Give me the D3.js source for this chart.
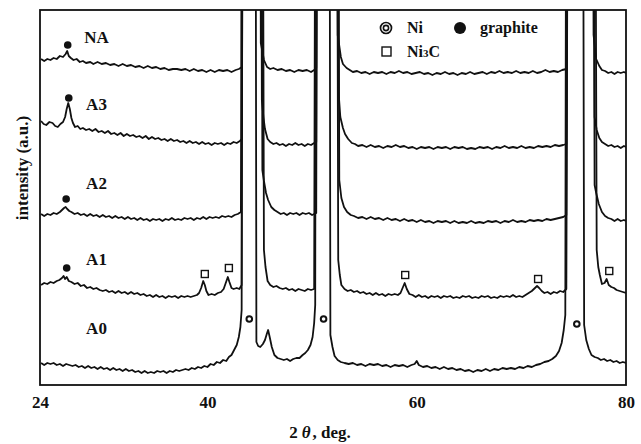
<!DOCTYPE html>
<html>
<head>
<meta charset="utf-8">
<script src="https://cdn.jsdelivr.net/npm/d3@7"></script>
<style>
  body { margin: 0; background: #fff; }
  text { font-family: "Liberation Serif", "Times New Roman", serif; font-weight: bold; fill: #111; }
</style>
</head>
<body>
<div id="plot"></div>
<script>
// Chart size
const width = 641;
const height = 444;
const margin = { top: 10, right: 15, bottom: 59, left: 40 };

// X-ray patterns, [2theta, intensity a.u.]; peaks go far off the top
const NA = [
  [24.1,326],[24.4,324],[24.7,326],[25.0,325],[25.3,327],[25.6,326],[25.9,329],[26.2,328],[26.45,331],[26.6,334],[26.75,329],[26.95,327],[27.2,325],[27.5,326],[27.8,323],[28.1,324],[28.4,322],[28.8,323],[29.1,321],[29.5,323],[29.9,321],[30.3,322],[30.7,320],[31.1,321],[31.5,319],[31.9,321],[32.3,319],[32.7,320],[33.1,318],[33.5,319],[33.9,317],[34.3,319],[34.7,317],[35.1,318],[35.5,316],[35.9,317],[36.3,315],[36.7,316],[37.1,316],[37.5,315],[37.9,316],[38.3,314],[38.7,316],[39.1,314],[39.5,315],[39.9,313],[40.3,315],[40.7,313],[41.1,315],[41.5,314],[41.9,315],[42.3,313],[42.7,315],[43.0,316],[43.3,318],
  [44.2,5000],
  [45.1,342],[45.4,325],[45.7,318],[46.0,316],[46.3,317],[46.7,315],[47.1,316],[47.5,314],[47.9,315],[48.3,313],[48.7,315],[49.1,314],[49.5,315],[49.9,313],[50.2,315],[50.4,317],
  [51.3,5000],
  [52.45,350],[52.75,328],[52.95,321],[53.3,317],[53.6,315],[53.9,313],[54.3,314],[54.7,312],[55.1,313],[55.5,311],[55.9,313],[56.3,312],[56.7,313],[57.1,311],[57.5,313],[57.9,312],[58.3,314],[58.7,312],[59.1,313],[59.5,311],[59.9,312],[60.3,313],[60.7,311],[61.1,312],[61.5,310],[61.9,312],[62.3,311],[62.7,313],[63.1,311],[63.5,312],[63.9,310],[64.3,312],[64.7,311],[65.1,313],[65.5,311],[65.9,312],[66.3,313],[66.7,311],[67.1,313],[67.5,312],[67.9,314],[68.3,312],[68.7,313],[69.1,312],[69.5,314],[69.9,312],[70.3,313],[70.7,312],[71.1,314],[71.5,312],[71.9,313],[72.3,315],[72.7,313],[73.1,314],[73.5,313],[73.9,315],[74.3,316],
  [75.7,5000],
  [76.9,350],[77.15,326],[77.45,319],[77.7,315],[78.0,314],[78.3,312],[78.6,313],[78.9,311],[79.2,313],[79.5,312],[79.8,313],[80,312]
];

const A3 = [
  [24.1,264],[24.35,261],[24.6,260],[24.9,263],[25.2,262],[25.45,259],[25.7,258],[25.95,261],[26.2,263],[26.4,268],[26.55,276],[26.7,282],[26.85,276],[27.0,267],[27.15,262],[27.35,258],[27.6,259],[27.85,256],[28.1,257],[28.4,255],[28.7,256],[29.0,254],[29.3,256],[29.6,253],[29.9,254],[30.2,252],[30.5,254],[30.8,251],[31.1,252],[31.4,250],[31.7,252],[32.0,249],[32.3,251],[32.6,249],[32.9,250],[33.2,248],[33.5,249],[33.8,247],[34.1,249],[34.4,246],[34.7,248],[35.0,246],[35.3,247],[35.6,245],[35.9,246],[36.2,244],[36.5,246],[36.8,244],[37.1,245],[37.4,243],[37.7,244],[38.0,242],[38.3,244],[38.6,242],[38.9,243],[39.2,241],[39.5,243],[39.8,241],[40.1,242],[40.4,240],[40.7,242],[41.0,241],[41.3,242],[41.6,240],[41.9,242],[42.2,241],[42.5,243],[42.8,242],[43.1,244],[43.3,246],
  [44.2,5000],
  [45.2,285],[45.35,268],[45.5,256],[45.75,246],[46.0,243],[46.3,241],[46.6,242],[46.9,240],[47.2,241],[47.5,239],[47.8,241],[48.1,240],[48.4,242],[48.7,240],[49.0,241],[49.3,239],[49.6,241],[49.9,240],[50.2,242],[50.4,243],
  [51.3,5000],
  [52.55,290],[52.7,268],[52.95,257],[53.15,251],[53.45,246],[53.8,242],[54.1,241],[54.4,239],[54.8,240],[55.2,238],[55.6,240],[56.0,238],[56.4,239],[56.8,237],[57.2,239],[57.6,238],[58.0,240],[58.4,238],[58.8,239],[59.2,237],[59.6,238],[60.0,236],[60.4,238],[60.8,237],[61.2,238],[61.6,236],[62.0,238],[62.4,237],[62.8,238],[63.2,236],[63.6,238],[64.0,237],[64.4,238],[64.8,236],[65.2,237],[65.6,236],[66.0,238],[66.4,237],[66.8,238],[67.2,236],[67.6,238],[68.0,237],[68.4,239],[68.8,237],[69.2,238],[69.6,237],[70.0,239],[70.4,237],[70.8,238],[71.2,237],[71.6,239],[72.0,238],[72.4,239],[72.8,238],[73.2,240],[73.6,239],[74.0,240],[74.3,241],
  [75.7,5000],
  [77.0,268],[77.2,255],[77.45,247],[77.7,243],[78.0,241],[78.3,239],[78.6,240],[78.9,238],[79.2,239],[79.5,237],[79.8,239],[80,238]
];

const A2 = [
  [24.1,171],[24.4,169],[24.7,171],[25.0,170],[25.3,172],[25.6,171],[25.9,173],[26.1,175],[26.3,177],[26.45,178],[26.6,176],[26.8,174],[27.0,173],[27.3,171],[27.6,172],[27.9,170],[28.2,171],[28.5,169],[28.8,171],[29.1,169],[29.4,170],[29.7,168],[30.0,170],[30.3,168],[30.6,169],[30.9,167],[31.2,169],[31.5,167],[31.8,168],[32.1,166],[32.4,168],[32.7,166],[33.0,167],[33.3,165],[33.6,167],[33.9,165],[34.2,166],[34.5,164],[34.8,166],[35.1,165],[35.4,166],[35.7,164],[36.0,166],[36.3,165],[36.6,167],[36.9,165],[37.2,166],[37.5,165],[37.8,167],[38.1,166],[38.4,167],[38.7,165],[39.0,167],[39.3,166],[39.6,168],[39.9,166],[40.2,168],[40.5,167],[40.8,168],[41.1,167],[41.4,169],[41.7,168],[42.0,169],[42.3,168],[42.6,170],[42.9,171],[43.2,173],
  [44.2,5000],
  [45.25,215],[45.4,204],[45.6,192],[45.8,185],[46.1,178],[46.4,175],[46.7,173],[47.0,171],[47.3,172],[47.6,170],[47.9,172],[48.2,171],[48.5,172],[48.8,170],[49.1,172],[49.4,171],[49.7,172],[50.0,170],[50.2,171],[50.4,172],
  [51.3,5000],
  [52.6,205],[52.8,187],[53.05,178],[53.35,173],[53.7,170],[54.0,169],[54.4,167],[54.8,168],[55.2,166],[55.6,168],[56.0,166],[56.4,167],[56.8,165],[57.2,167],[57.6,165],[58.0,166],[58.4,164],[58.8,166],[59.2,164],[59.6,165],[60.0,163],[60.4,165],[60.8,163],[61.2,164],[61.6,162],[62.0,164],[62.4,163],[62.8,164],[63.2,162],[63.6,164],[64.0,162],[64.4,163],[64.8,162],[65.2,164],[65.6,162],[66.0,163],[66.4,162],[66.8,164],[67.2,163],[67.6,164],[68.0,162],[68.4,164],[68.8,163],[69.2,165],[69.6,163],[70.0,164],[70.4,163],[70.8,165],[71.2,164],[71.6,165],[72.0,164],[72.4,166],[72.8,165],[73.2,166],[73.6,167],[74.0,168],[74.3,170],
  [75.7,5000],
  [77.0,200],[77.15,192],[77.4,181],[77.7,173],[78.0,169],[78.3,167],[78.6,166],[78.9,164],[79.2,166],[79.5,164],[79.8,165],[80,164]
];

const A1 = [
  [24.1,100],[24.4,102],[24.7,101],[25.0,103],[25.3,102],[25.6,104],[25.85,105],[26.1,107],[26.25,109],[26.4,106],[26.55,108],[26.75,104],[27.0,103],[27.3,101],[27.6,102],[27.9,99],[28.2,100],[28.5,97],[28.8,98],[29.1,96],[29.4,97],[29.7,95],[30.0,94],[30.3,95],[30.6,93],[30.9,94],[31.2,92],[31.5,94],[31.8,92],[32.1,93],[32.4,91],[32.7,93],[33.0,91],[33.3,92],[33.6,90],[33.9,91],[34.2,89],[34.5,90],[34.8,88],[35.1,90],[35.4,88],[35.7,89],[36.0,87],[36.3,89],[36.6,88],[36.9,89],[37.2,87],[37.5,89],[37.8,88],[38.1,89],[38.4,88],[38.7,89],[39.0,90],[39.2,92],[39.4,97],[39.6,104],[39.75,100],[39.9,94],[40.1,90],[40.4,91],[40.7,90],[41.0,92],[41.3,93],[41.55,96],[41.75,102],[41.95,108],[42.1,103],[42.3,97],[42.5,96],[42.8,97],[43.05,96],[43.27,100],
  [44.2,5000],
  [45.4,135],[45.55,118],[45.75,104],[46.0,100],[46.3,98],[46.6,99],[46.9,97],[47.2,96],[47.5,97],[47.8,95],[48.1,96],[48.4,94],[48.7,96],[49.0,95],[49.3,94],[49.6,96],[49.9,95],[50.2,96],
  [51.3,5000],
  [52.5,125],[52.65,110],[52.8,100],[53.1,96],[53.4,94],[53.7,95],[54.0,93],[54.3,94],[54.6,92],[54.9,93],[55.2,91],[55.5,92],[55.8,90],[56.1,92],[56.4,90],[56.7,91],[57.0,89],[57.3,91],[57.6,90],[57.9,91],[58.2,90],[58.45,92],[58.65,97],[58.85,102],[59.05,96],[59.3,91],[59.6,90],[59.9,88],[60.2,90],[60.5,88],[60.8,89],[61.1,87],[61.4,89],[61.7,88],[62.0,89],[62.3,87],[62.6,89],[62.9,88],[63.2,89],[63.5,87],[63.8,88],[64.1,87],[64.4,89],[64.7,88],[65.0,89],[65.3,87],[65.6,88],[65.9,87],[66.2,89],[66.5,88],[66.8,89],[67.1,87],[67.4,88],[67.7,87],[68.0,89],[68.3,88],[68.6,89],[68.9,88],[69.2,90],[69.5,88],[69.8,89],[70.1,88],[70.4,90],[70.7,92],[71.0,94],[71.3,97],[71.5,99],[71.7,97],[71.95,94],[72.2,92],[72.5,93],[72.8,91],[73.1,93],[73.4,92],[73.7,94],[74.0,93],[74.3,96],
  [75.7,5000],
  [77.2,135],[77.35,118],[77.5,110],[77.7,101],[77.95,102],[78.15,106],[78.35,100],[78.6,98],[78.85,97],[79.1,95],[79.4,94],[79.7,93],[80,92]
];

const A0 = [
  [24.1,22],[24.4,20],[24.7,22],[25.0,21],[25.3,22],[25.6,20],[25.9,21],[26.2,19],[26.5,21],[26.8,20],[27.1,19],[27.4,20],[27.7,18],[28.0,19],[28.3,17],[28.6,19],[28.9,17],[29.2,18],[29.5,16],[29.8,18],[30.1,16],[30.4,17],[30.7,15],[31.0,17],[31.3,15],[31.6,16],[31.9,14],[32.2,16],[32.5,14],[32.8,15],[33.1,13],[33.4,14],[33.7,12],[34.0,14],[34.3,12],[34.6,13],[34.9,12],[35.2,14],[35.5,13],[35.8,14],[36.1,12],[36.4,14],[36.7,13],[37.0,15],[37.3,14],[37.6,15],[37.9,16],[38.2,15],[38.5,17],[38.8,16],[39.1,18],[39.4,17],[39.7,19],[40.0,18],[40.3,21],[40.6,20],[40.9,23],[41.2,22],[41.5,25],[41.8,24],[42.05,28],[42.3,30],[42.55,35],[42.8,40],[43.0,48],[43.15,58],[43.27,75],
  [43.95,5000],
  [44.68,43],[44.85,39],[45.05,38],[45.3,41],[45.5,45],[45.7,52],[45.8,55],[45.95,48],[46.15,38],[46.4,30],[46.7,27],[47.0,26],[47.3,25],[47.6,26],[47.9,24],[48.2,26],[48.5,27],[48.8,27],[49.1,30],[49.35,32],[49.6,35],[49.85,40],[50.05,48],[50.2,62],[50.3,80],
  [51.0,5000],
  [51.75,50],[51.95,38],[52.15,29],[52.45,25],[52.75,23],[53.1,22],[53.5,21],[53.9,22],[54.3,20],[54.7,21],[55.1,19],[55.5,21],[55.9,20],[56.3,21],[56.7,19],[57.1,20],[57.5,18],[57.9,20],[58.3,19],[58.7,20],[59.1,18],[59.5,20],[59.8,21],[60.0,24],[60.2,20],[60.6,18],[61.0,19],[61.4,17],[61.8,18],[62.2,16],[62.6,18],[63.0,16],[63.4,17],[63.8,15],[64.2,16],[64.6,14],[65.0,15],[65.4,13],[65.8,15],[66.2,14],[66.6,16],[67.0,14],[67.4,16],[67.8,15],[68.2,17],[68.6,16],[69.0,17],[69.4,16],[69.8,18],[70.2,17],[70.6,19],[71.0,18],[71.4,20],[71.8,21],[72.2,23],[72.6,24],[72.95,26],[73.3,29],[73.6,34],[73.85,42],[74.05,55],[74.2,70],
  [75.0,5000],
  [76.0,60],[76.2,45],[76.45,36],[76.7,30],[77.0,28],[77.3,27],[77.6,25],[77.9,26],[78.2,24],[78.5,25],[78.8,23],[79.1,24],[79.4,22],[79.7,23],[80,22]
];

const series = [NA, A3, A2, A1, A0];

// Sample names and where they sit
const sampleNames = ["NA", "A3", "A2", "A1", "A0"];
const sampleLabelX = [29.4, 29.4, 29.4, 29.4, 29.4];
const sampleLabelY = [348, 281, 202, 126, 57];

// Phase markers
const niMarks = [[44.0, 66], [51.1, 66], [75.3, 61]];
const graphiteMarks = [[26.65, 340], [26.75, 287], [26.5, 186], [26.55, 117]];
const ni3cMarks = [[39.75, 111], [42.05, 117], [58.9, 110], [71.6, 106], [78.4, 114]];

const xTicks = [24, 40, 60, 80];

// Scales
const x = d3.scaleLinear().domain([24, 80]).range([margin.left, width - margin.right]);
const y = d3.scaleLinear().domain([0, 375]).range([height - margin.bottom, margin.top]);

const svg = d3.select("#plot")
  .append("svg")
  .attr("width", width)
  .attr("height", height);

svg.append("clipPath")
  .attr("id", "clip")
  .append("rect")
  .attr("x", margin.left)
  .attr("y", margin.top)
  .attr("width", width - margin.left - margin.right)
  .attr("height", height - margin.top - margin.bottom);

// Curves
const line = d3.line().x(d => x(d[0])).y(d => y(d[1]));

svg.append("g")
  .attr("clip-path", "url(#clip)")
  .selectAll("path")
  .data(series)
  .enter().append("path")
  .attr("d", line)
  .attr("fill", "none")
  .attr("stroke", "#111")
  .attr("stroke-width", 1.8)
  .attr("stroke-linejoin", "round");

// Frame
svg.append("rect")
  .attr("x", margin.left)
  .attr("y", margin.top)
  .attr("width", width - margin.left - margin.right)
  .attr("height", height - margin.top - margin.bottom)
  .attr("fill", "none")
  .attr("stroke", "#111")
  .attr("stroke-width", 1.8);

// X axis
const xAxis = svg.append("g")
  .attr("transform", `translate(0,${height - margin.bottom})`)
  .call(d3.axisBottom(x).tickValues(xTicks).tickSize(0).tickPadding(11));
xAxis.select(".domain").remove();
xAxis.selectAll("text")
  .attr("font-size", 17)
  .style("font-family", '"Liberation Serif", serif')
  .style("font-weight", "bold")
  .attr("fill", "#111");

// Axis titles
const xTitle = svg.append("text")
  .attr("x", 320)
  .attr("y", 438)
  .attr("text-anchor", "middle")
  .attr("font-size", 17);
xTitle.append("tspan").text("2");
xTitle.append("tspan").attr("dx", 4).style("font-style", "italic").text("θ");
xTitle.append("tspan").attr("dx", 2).text(", deg.");

svg.append("text")
  .attr("transform", "translate(22,168) rotate(-90)")
  .attr("text-anchor", "middle")
  .attr("dominant-baseline", "central")
  .attr("font-size", 17)
  .text("intensity (a.u.)");

// Sample labels
svg.append("g")
  .selectAll("text")
  .data(sampleNames)
  .enter().append("text")
  .attr("x", (d, i) => x(sampleLabelX[i]))
  .attr("y", (d, i) => y(sampleLabelY[i]))
  .attr("text-anchor", "middle")
  .attr("dominant-baseline", "central")
  .attr("font-size", 17)
  .text(d => d);

// Markers
svg.append("g")
  .selectAll("circle")
  .data(niMarks)
  .enter().append("circle")
  .attr("cx", d => x(d[0]))
  .attr("cy", d => y(d[1]))
  .attr("r", 2.8)
  .attr("fill", "none")
  .attr("stroke", "#111")
  .attr("stroke-width", 2);

svg.append("g")
  .selectAll("circle")
  .data(graphiteMarks)
  .enter().append("circle")
  .attr("cx", d => x(d[0]))
  .attr("cy", d => y(d[1]))
  .attr("r", 3.8)
  .attr("fill", "#111");

svg.append("g")
  .selectAll("rect")
  .data(ni3cMarks)
  .enter().append("rect")
  .attr("x", d => x(d[0]) - 3.5)
  .attr("y", d => y(d[1]) - 3.5)
  .attr("width", 7)
  .attr("height", 7)
  .attr("fill", "#fff")
  .attr("stroke", "#111")
  .attr("stroke-width", 1.4);

// Legend
const legend = svg.append("g");
legend.append("circle").attr("cx", 386).attr("cy", 28).attr("r", 5.5)
  .attr("fill", "none").attr("stroke", "#111").attr("stroke-width", 1.7);
legend.append("circle").attr("cx", 386).attr("cy", 28).attr("r", 2.6)
  .attr("fill", "none").attr("stroke", "#111").attr("stroke-width", 1.6);
legend.append("text").attr("x", 407).attr("y", 33).attr("font-size", 16).text("Ni");
legend.append("circle").attr("cx", 460).attr("cy", 28).attr("r", 6).attr("fill", "#111");
legend.append("text").attr("x", 480).attr("y", 33).attr("font-size", 16).text("graphite");
legend.append("rect").attr("x", 382).attr("y", 47).attr("width", 9).attr("height", 9)
  .attr("fill", "#fff").attr("stroke", "#111").attr("stroke-width", 1.4);
const ni3c = legend.append("text").attr("x", 407).attr("y", 57).attr("font-size", 16);
ni3c.append("tspan").text("Ni");
ni3c.append("tspan").attr("font-size", 11).text("3");
ni3c.append("tspan").text("C");
</script>
</body>
</html>
